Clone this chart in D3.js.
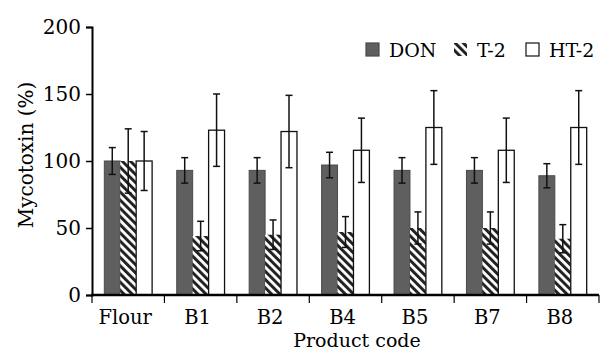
<!DOCTYPE html>
<html><head><meta charset="utf-8">
<script src="https://cdn.jsdelivr.net/npm/d3@7"></script>
<style>html,body{margin:0;padding:0;background:#fff;}svg{display:block;}</style>
</head><body>
<svg id="c" width="600" height="351"></svg>
<script>
const categories = ["Flour","B1","B2","B4","B5","B7","B8"];
const seriesNames = ["DON","T-2","HT-2"];
const donValues = [100, 93, 93, 97, 93, 93, 89];
const donErr    = [10, 9.5, 9.5, 9.5, 9.5, 9.5, 9];
const t2Values  = [100, 44, 45, 47, 50, 50, 42];
const t2Err     = [24, 11, 11, 11.5, 12, 12, 10.5];
const ht2Values = [100, 123, 122, 108, 125, 108, 125];
const ht2Err    = [22, 27, 27, 24, 27.5, 24, 27.5];
const yTicks = [0, 50, 100, 150, 200];

const values = [donValues, t2Values, ht2Values];
const errs = [donErr, t2Err, ht2Err];
const font = "'DejaVu Serif', serif";
const fs = 20;

const svg = d3.select("#c");
const defs = svg.append("defs");
const pat = defs.append("pattern").attr("id","hatch").attr("patternUnits","userSpaceOnUse")
  .attr("width",5.8).attr("height",5.8).attr("patternTransform","rotate(-45)");
pat.append("rect").attr("width",5.8).attr("height",5.8).attr("fill","#fff");
pat.append("line").attr("x1",1.5).attr("x2",1.5).attr("y1",0).attr("y2",5.8)
  .attr("stroke","#222").attr("stroke-width",3);

const fills = ["#5f5f5f","url(#hatch)","#ffffff"];
const strokes = ["#4a4a4a","none","#111"];

const y = d3.scaleLinear().domain([0,200]).range([295,27]);
const x = d3.scaleBand().domain(categories).range([92,599]).paddingInner(0.34).paddingOuter(0.17);
const xs = d3.scaleBand().domain(seriesNames).range([0, x.bandwidth()]);

seriesNames.forEach((s,si)=>{
  const g = svg.append("g");
  g.selectAll("rect").data(categories).join("rect")
    .attr("x", c=>x(c)+xs(s))
    .attr("y", (c,i)=>y(values[si][i]))
    .attr("width", xs.bandwidth())
    .attr("height", (c,i)=>y(0)-y(values[si][i]))
    .attr("fill", fills[si])
    .attr("stroke", strokes[si])
    .attr("stroke-width", si===2?1.3:1);
});
seriesNames.forEach((s,si)=>{
  const g = svg.append("g").attr("stroke","#111").attr("stroke-width",1.5);
  categories.forEach((c,i)=>{
    const cx = x(c)+xs(s)+xs.bandwidth()/2;
    const hi = y(values[si][i]+errs[si][i]), lo = y(values[si][i]-errs[si][i]);
    g.append("line").attr("x1",cx).attr("x2",cx).attr("y1",hi).attr("y2",lo);
    g.append("line").attr("x1",cx-3.5).attr("x2",cx+3.5).attr("y1",hi).attr("y2",hi);
    g.append("line").attr("x1",cx-3.5).attr("x2",cx+3.5).attr("y1",lo).attr("y2",lo);
  });
});

const ya = svg.append("g").attr("transform","translate(92,0)")
  .call(d3.axisLeft(y).tickValues(yTicks).tickSize(6).tickPadding(5));
ya.select(".domain").attr("stroke","#000").attr("stroke-width",2);
ya.selectAll(".tick line").attr("stroke","#000").attr("stroke-width",1.5);
ya.selectAll("text").attr("font-family",font).attr("font-size",fs).attr("fill","#000");

const xTickPos = categories.map((c,i)=> x.range()[0] + i*x.step());
xTickPos.push(x.range()[1]);
const xa = svg.append("g");
xa.append("line").attr("x1",91).attr("x2",599).attr("y1",y(0)).attr("y2",y(0)).attr("stroke","#000").attr("stroke-width",2.5);
xa.selectAll("line.t").data(xTickPos).join("line").attr("class","t")
  .attr("x1",d=>d).attr("x2",d=>d).attr("y1",y(0)).attr("y2",y(0)+8).attr("stroke","#000").attr("stroke-width",1.2);
xa.selectAll("text").data(categories).join("text")
  .attr("x",c=>x(c)+x.bandwidth()/2).attr("dx",-3).attr("y",324)
  .attr("text-anchor","middle").attr("font-family",font).attr("font-size",19.5).text(c=>c);

svg.append("text").attr("transform","translate(33,155) rotate(-90)").attr("text-anchor","middle")
  .attr("font-family",font).attr("font-size",fs).text("Mycotoxin (%)");
svg.append("text").attr("x",357).attr("y",346.5).attr("text-anchor","middle")
  .attr("font-family",font).attr("font-size",19).text("Product code");

const legX = [366, 454, 526];
const leg = svg.append("g");
seriesNames.forEach((s,si)=>{
  leg.append("rect").attr("x",legX[si]).attr("y",43).attr("width",13).attr("height",13)
    .attr("fill",fills[si]).attr("stroke", si===2?"#111":(si===0?"#4a4a4a":"none")).attr("stroke-width",1.2);
  leg.append("text").attr("x",legX[si]+23).attr("y",57).attr("font-family",font).attr("font-size",fs-1).text(s);
});
</script>
</body></html>
